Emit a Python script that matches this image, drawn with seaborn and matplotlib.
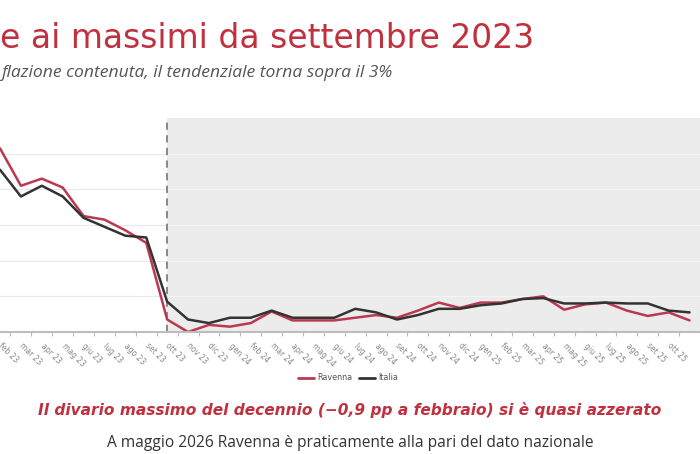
import numpy as np
import pandas as pd
import matplotlib
matplotlib.use("Agg")
import matplotlib.pyplot as plt
import seaborn as sns

# mesi visibili nel ritaglio (feb 2023 - nov 2025)
mesi = ["feb 23", "mar 23", "apr 23", "mag 23", "giu 23", "lug 23", "ago 23", "set 23",
        "ott 23", "nov 23", "dic 23", "gen 24", "feb 24", "mar 24", "apr 24", "mag 24",
        "giu 24", "lug 24", "ago 24", "set 24", "ott 24", "nov 24", "dic 24", "gen 25",
        "feb 25", "mar 25", "apr 25", "mag 25", "giu 25", "lug 25", "ago 25", "set 25",
        "ott 25", "nov 25"]

ravenna = [10.3, 8.2, 8.6, 8.1, 6.5, 6.3, 5.7, 5.0,
           0.7, 0.0, 0.4, 0.3, 0.5, 1.15, 0.65, 0.65,
           0.65, 0.8, 0.95, 0.8, 1.2, 1.65, 1.35, 1.65,
           1.65, 1.85, 2.0, 1.25, 1.55, 1.65, 1.2, 0.9,
           1.1, 0.65]

italia = [9.1, 7.6, 8.2, 7.6, 6.4, 5.9, 5.4, 5.3,
          1.7, 0.7, 0.5, 0.8, 0.8, 1.2, 0.8, 0.8,
          0.8, 1.3, 1.1, 0.7, 0.95, 1.3, 1.3, 1.5,
          1.6, 1.85, 1.9, 1.6, 1.6, 1.65, 1.6, 1.6,
          1.2, 1.1]

serie = ["Ravenna", "Italia"]
colori = {"Ravenna": "#BC3850", "Italia": "#333333"}
inizio_grigio = "ott 23"

rosso = "#C0313F"

df = pd.concat([
    pd.DataFrame({"x": np.arange(len(mesi)), "valore": ravenna, "serie": "Ravenna"}),
    pd.DataFrame({"x": np.arange(len(mesi)), "valore": italia, "serie": "Italia"}),
])

sns.set_theme(style="white")
plt.rcParams["font.family"] = ["DejaVu Sans"]

fig = plt.figure(figsize=(7, 4.54), dpi=100)
ax = fig.add_axes([0, (454 - 332) / 454, 1, (332 - 118) / 454])

x0 = mesi.index(inizio_grigio)
xmax = len(mesi) + 2
ax.axvspan(x0, xmax, color="#ECECEC", zorder=0, lw=0)
ax.axvline(x0, color="#808080", ls=(0, (4, 3)), lw=1.3, zorder=1)

griglia = [2, 4, 6, 8, 10]
ax.hlines(griglia, -2, x0, color="#E9E9E9", lw=0.8, zorder=0.5)
ax.hlines(griglia, x0, xmax, color="#F4F4F4", lw=0.8, zorder=0.5)

sns.lineplot(data=df, x="x", y="valore", hue="serie", hue_order=serie,
             palette=colori, lw=1.8, sort=False, legend=False, ax=ax, zorder=3)

ax.set_xlim(2 / 21.3, 702 / 21.3)
ax.set_ylim(0, 12)
ax.set_yticks([])
ax.set_xlabel("")
ax.set_ylabel("")
for s in ["top", "left", "right"]:
    ax.spines[s].set_visible(False)
ax.spines["bottom"].set_color("#BDBDBD")
ax.spines["bottom"].set_linewidth(1.5)
ax.spines["bottom"].set_zorder(4)

# l'ultima etichetta resta fuori dal ritaglio
etichette = mesi[:-1] + [""]
ax.set_xticks(np.arange(len(mesi)))
ax.set_xticklabels(etichette, rotation=-45, ha="left", va="center", rotation_mode="anchor",
                   fontsize=5.5, color="#888888")
ax.tick_params(axis="x", which="major", length=0, pad=9)
ax.set_xticks(np.arange(len(mesi)) + 0.5, minor=True)
ax.tick_params(axis="x", which="minor", length=3, width=0.8, color="#BDBDBD", bottom=True)

# legenda
handles = [plt.Line2D([], [], color=colori[s], lw=2) for s in serie]
fig.legend(handles, serie, loc="center", bbox_to_anchor=(348 / 700, 1 - 378 / 454),
           ncol=2, frameon=False, fontsize=5.8, handlelength=2.0, handletextpad=0.3,
           columnspacing=0.9, labelcolor="#555555")

# testi
fig.text(0 / 700, 1 - 38 / 454, "e ai massimi da settembre 2023", color=rosso,
         fontsize=23.8, va="center", ha="left")
fig.text(2 / 700, 1 - 73 / 454, "flazione contenuta, il tendenziale torna sopra il 3%",
         color="#555555", fontsize=12.6, style="italic", va="center", ha="left",
         family=["Open Sans", "DejaVu Sans"])
fig.text(0.5, 1 - 410 / 454,
         "Il divario massimo del decennio (\u22120,9 pp a febbraio) si è quasi azzerato",
         color=rosso, fontsize=11.05, weight="bold", style="italic", ha="center", va="center")
fig.text(0.5, 1 - 443 / 454,
         "A maggio 2026 Ravenna è praticamente alla pari del dato nazionale",
         color="#333333", fontsize=11.2, ha="center", va="center",
         family=["Open Sans", "DejaVu Sans"])

fig.savefig("out.png", dpi=100)
